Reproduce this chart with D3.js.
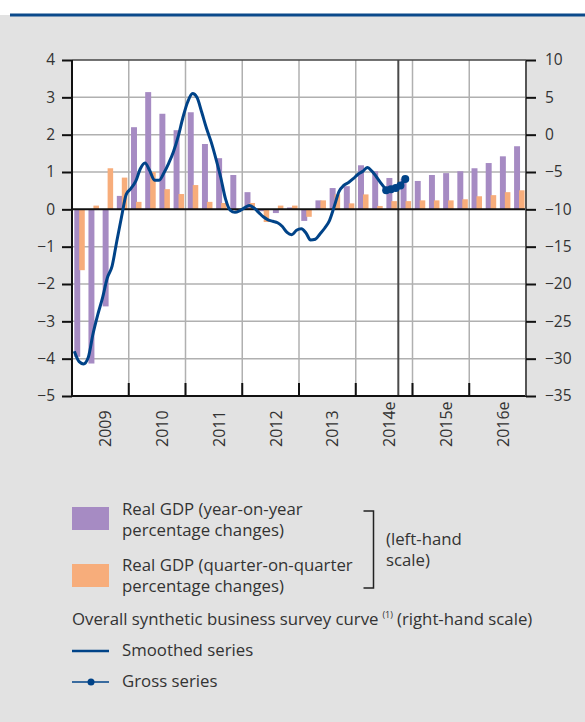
<!DOCTYPE html>
<html><head><meta charset="utf-8">
<script src="https://cdn.jsdelivr.net/npm/d3@7"></script>
<style>
html,body{margin:0;padding:0;background:#fff;}
svg{display:block;font-family:"Open Sans",sans-serif;}
</style></head>
<body>
<svg id="chart" width="585" height="722"></svg>
<script>
// ---------- DATA ----------
const years = ["2009","2010","2011","2012","2013","2014e","2015e","2016e"];
const quarters = ["2009Q1","2009Q2","2009Q3","2009Q4","2010Q1","2010Q2","2010Q3","2010Q4",
  "2011Q1","2011Q2","2011Q3","2011Q4","2012Q1","2012Q2","2012Q3","2012Q4",
  "2013Q1","2013Q2","2013Q3","2013Q4","2014Q1","2014Q2","2014Q3","2014Q4",
  "2015Q1","2015Q2","2015Q3","2015Q4","2016Q1","2016Q2","2016Q3","2016Q4"];
const gdpYoY = [-3.95,-4.13,-2.6,0.36, 2.2,3.14,2.56,2.12, 2.6,1.75,1.37,0.92, 0.46,-0.05,-0.1,0.05,
  -0.31,0.24,0.57,0.62, 1.18,1.02,0.84,0.82, 0.76,0.92,0.97,1.02, 1.1,1.24,1.42,1.69];
const gdpQoQ = [-1.63,0.1,1.1,0.85, 0.2,1.0,0.54,0.41, 0.65,0.2,0.17,-0.05, 0.17,-0.34,0.1,0.1,
  -0.2,0.24,0.4,0.16, 0.4,0.09,0.22,0.22, 0.24,0.24,0.24,0.27, 0.35,0.38,0.46,0.51];
// monthly, Jan 2009 .. Jul 2014
const smoothedStart = "2009-01";
const smoothedSeries = [-29.0,-30.4,-30.7,-29.8,-26.7,-24.1,-21.9,-19.2,-17.6,-14.3,-11.0,-8.0,
  -7.2,-6.2,-4.6,-3.8,-4.8,-6.1,-6.1,-5.1,-3.8,-2.3,-0.2,2.3,
  4.4,5.5,5.0,3.0,0.9,-1.0,-3.2,-5.7,-8.6,-10.1,-10.4,-10.2,
  -9.8,-9.5,-9.8,-10.4,-11.0,-11.4,-11.6,-11.8,-12.3,-13.1,-13.4,-12.8,
  -12.6,-13.2,-14.1,-14.0,-13.3,-12.5,-11.5,-9.6,-7.6,-6.8,-6.4,-5.9,
  -5.3,-4.9,-4.4,-4.9,-5.7,-6.6,-7.4];
// monthly, Jul 2014 .. Nov 2014
const grossStart = "2014-07";
const grossSeries = [-7.45,-7.3,-7.15,-6.8,-5.95];
const leftTicks = [4,3,2,1,0,-1,-2,-3,-4,-5];
const rightTicks = [10,5,0,-5,-10,-15,-20,-25,-30,-35];

// ---------- LAYOUT ----------
const svg = d3.select("#chart");
const L = 72, R = 526, T = 60, B = 396;
const cPurple = "#a68bc3", cOrange = "#f7ad7b", cBlue = "#004388", cText = "#333";

svg.append("rect").attr("x",0).attr("y",15).attr("width",585).attr("height",707).attr("fill","#e2e2e2");
svg.append("line").attr("x1",10).attr("x2",585).attr("y1",15).attr("y2",15).attr("stroke","#0b4a8b").attr("stroke-width",3);
svg.append("rect").attr("x",L).attr("y",T).attr("width",R-L).attr("height",B-T).attr("fill","#fff");

const yL = d3.scaleLinear().domain([-5,4]).range([B,T]);
const yR = d3.scaleLinear().domain([-35,10]).range([B,T]);
const xQ = d3.scaleBand().domain(quarters).range([L,R]).paddingInner(0).paddingOuter(0);
const xY = d3.scaleBand().domain(years).range([L,R]);
const xT = d3.scaleTime().domain([new Date(2009,0,1), new Date(2017,0,1)]).range([L,R]);
const parseM = d3.timeParse("%Y-%m");
const midMonth = d => d3.timeDay.offset(d, 15);

// gridlines
const g = svg.append("g");
g.selectAll(".hg").data(leftTicks.filter(v=>v!==0 && v!==4 && v!==-5)).join("line")
  .attr("x1",L).attr("x2",R).attr("y1",d=>yL(d)).attr("y2",d=>yL(d))
  .attr("stroke","#b0b0b0").attr("stroke-width",1.5);
g.selectAll(".vg").data(years.slice(1)).join("line")
  .attr("x1",d=>xY(d)).attr("x2",d=>xY(d)).attr("y1",T).attr("y2",B)
  .attr("stroke","#b0b0b0").attr("stroke-width",1.5);

// bars
const bw = xQ.bandwidth();
svg.append("g").selectAll("rect").data(quarters).join("rect")
  .attr("x",(d)=>xQ(d)+0.16*bw).attr("width",0.42*bw)
  .attr("y",(d,i)=>yL(Math.max(0,gdpYoY[i]))).attr("height",(d,i)=>Math.abs(yL(gdpYoY[i])-yL(0)))
  .attr("fill",cPurple);
svg.append("g").selectAll("rect").data(quarters).join("rect")
  .attr("x",(d)=>xQ(d)+0.51*bw).attr("width",0.39*bw)
  .attr("y",(d,i)=>yL(Math.max(0,gdpQoQ[i]))).attr("height",(d,i)=>Math.abs(yL(gdpQoQ[i])-yL(0)))
  .attr("fill",cOrange);

// projection line (end of 2014 Q3)
svg.append("line").attr("x1",xQ("2014Q4")).attr("x2",xQ("2014Q4")).attr("y1",T).attr("y2",B)
  .attr("stroke","#4a4a4a").attr("stroke-width",2);

// zero line
svg.append("line").attr("x1",L).attr("x2",R).attr("y1",yL(0)).attr("y2",yL(0))
  .attr("stroke","#111").attr("stroke-width",2);

// frame
svg.append("line").attr("x1",L).attr("x2",R).attr("y1",T).attr("y2",T).attr("stroke","#444").attr("stroke-width",1.5);
svg.append("line").attr("x1",L).attr("x2",R).attr("y1",B).attr("y2",B).attr("stroke","#111").attr("stroke-width",2);
svg.append("line").attr("x1",L).attr("x2",L).attr("y1",T).attr("y2",B).attr("stroke","#111").attr("stroke-width",2);
svg.append("line").attr("x1",R).attr("x2",R).attr("y1",T).attr("y2",B).attr("stroke","#555").attr("stroke-width",2);

// bottom ticks at year boundaries
svg.append("g").selectAll("line").data(years.slice(1)).join("line")
  .attr("x1",d=>xY(d)).attr("x2",d=>xY(d)).attr("y1",B-13).attr("y2",B)
  .attr("stroke","#111").attr("stroke-width",2);

// axes
const axL = d3.axisLeft(yL).tickValues(leftTicks).tickSize(10).tickPadding(7);
const gL = svg.append("g").attr("transform",`translate(${L},0)`).call(axL);
const axR = d3.axisRight(yR).tickValues(rightTicks).tickSize(10).tickPadding(9);
const gR = svg.append("g").attr("transform",`translate(${R},0)`).call(axR);
[gL,gR].forEach(ga=>{
  ga.select(".domain").remove();
  ga.selectAll(".tick line").attr("stroke","#111").attr("stroke-width",2);
  ga.selectAll(".tick text").attr("fill",cText).style("font-size","15.5px").style("font-family","Open Sans");
});

// year labels (rotated)
svg.append("g").selectAll("text").data(years).join("text")
  .attr("transform",d=>`translate(${xY(d)+xY.bandwidth()/2+11},447) rotate(-90)`)
  .attr("text-anchor","start").attr("fill",cText).style("font-size","16px")
  .text(d=>d);

// smoothed line
const smoothDates = smoothedSeries.map((v,i)=>d3.timeMonth.offset(parseM(smoothedStart),i));
const line = d3.line().curve(d3.curveMonotoneX).x(d=>xT(midMonth(d[0]))).y(d=>yR(d[1]));
svg.append("path").datum(smoothDates.map((d,i)=>[d,smoothedSeries[i]]))
  .attr("d",line).attr("fill","none").attr("stroke",cBlue).attr("stroke-width",3).attr("stroke-linejoin","round");

// gross series
const grossDates = grossSeries.map((v,i)=>d3.timeMonth.offset(parseM(grossStart),i));
const gd = grossDates.map((d,i)=>[d,grossSeries[i]]);
svg.append("path").datum(gd).attr("d",d3.line().x(d=>xT(midMonth(d[0]))).y(d=>yR(d[1])))
  .attr("fill","none").attr("stroke",cBlue).attr("stroke-width",3.5);
svg.append("g").selectAll("circle").data(gd).join("circle")
  .attr("cx",d=>xT(midMonth(d[0]))).attr("cy",d=>yR(d[1])).attr("r",4).attr("fill",cBlue);

// ---------- LEGEND ----------
const lg = svg.append("g").attr("fill",cText).style("font-size","16.8px");
lg.append("rect").attr("x",72).attr("y",507).attr("width",37).attr("height",23).attr("fill",cPurple);
lg.append("rect").attr("x",72).attr("y",564).attr("width",37).attr("height",23).attr("fill",cOrange);
const t1 = lg.append("text").attr("x",122).attr("y",515);
t1.append("tspan").attr("x",122).text("Real GDP (year-on-year");
t1.append("tspan").attr("x",122).attr("dy",21).text("percentage changes)");
const t2 = lg.append("text").attr("x",122).attr("y",571);
t2.append("tspan").attr("x",122).text("Real GDP (quarter-on-quarter");
t2.append("tspan").attr("x",122).attr("dy",21).text("percentage changes)");
lg.append("path").attr("d","M363.5,511 H373.5 V588 H363.5").attr("fill","none").attr("stroke","#222").attr("stroke-width",1.5);
const t3 = lg.append("text").attr("x",386).attr("y",545);
t3.append("tspan").attr("x",386).text("(left-hand");
t3.append("tspan").attr("x",386).attr("dy",21).text("scale)");
const t4 = lg.append("text").attr("x",72).attr("y",625);
t4.append("tspan").text("Overall synthetic business survey curve");
t4.append("tspan").attr("dx",4).attr("dy",-7).style("font-size","9px").text("(1)");
t4.append("tspan").attr("dx",4).attr("dy",7).text("(right-hand scale)");
lg.append("line").attr("x1",72).attr("x2",109).attr("y1",651).attr("y2",651).attr("stroke",cBlue).attr("stroke-width",2.5);
lg.append("text").attr("x",122).attr("y",656).text("Smoothed series");
lg.append("line").attr("x1",72).attr("x2",109).attr("y1",682).attr("y2",682).attr("stroke",cBlue).attr("stroke-width",1.5);
lg.append("circle").attr("cx",91).attr("cy",682).attr("r",3.5).attr("fill",cBlue);
lg.append("text").attr("x",122).attr("y",687).text("Gross series");
</script>
</body></html>
